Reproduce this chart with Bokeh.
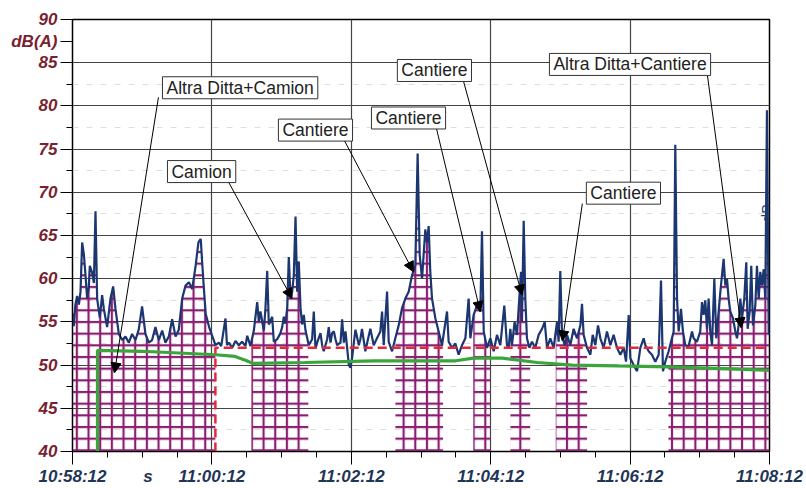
import numpy as np
from math import pi
from bokeh.plotting import figure
from bokeh.models import FixedTicker, Label, Arrow, NormalHead, LinearAxis
from bokeh.embed import file_html
from bokeh.resources import INLINE

# ---------------- data ----------------
# time in seconds after 10:58:12
x_tick_secs = [0, 120, 240, 360, 480, 600]
x_tick_labels = ["10:58:12", "11:00:12", "11:02:12", "11:04:12", "11:06:12", "11:08:12"]
x_minor_secs = [30, 60, 90, 150, 180, 210, 270, 300, 330, 390, 420, 450, 510, 540, 570]
x_unit_pos = 65
x_unit_label = "s"

y_tick_vals = [40, 45, 50, 55, 60, 65, 70, 75, 80, 85, 87.5, 90]
y_tick_labels = ["40", "45", "50", "55", "60", "65", "70", "75", "80", "85", "dB(A)", "90"]
y_minor_vals = [42.5, 47.5, 52.5, 57.5, 62.5, 67.5, 72.5, 77.5, 82.5]

# short LAeq time history, dB(A)
laeq_t = [0, 1.1, 2.5, 4.0, 5.5, 6.9, 8.3, 9.8, 11.2, 12.6, 14.0, 14.9, 16.9, 18.4, 19.8, 21.2, 23.5,
          25.5, 27.0, 29.8, 32.7, 35.0, 37.0, 39.9, 42.7, 45.6, 48.5, 51.3, 54.2, 57.0, 59.9, 62.8,
          65.7, 68.5, 71.4, 74.3, 77.2, 80.0, 82.9, 85.8, 88.7, 91.5, 94.4, 97.3, 100.2, 103.0,
          106.0, 108.4, 110.4, 111.8, 113.3, 114.7, 117.6, 120.5, 123.1, 126.0,
          128.0, 131.7, 133.0, 134.6, 137.5, 140.3, 143.2, 146.0, 148.9, 150.4, 153.2, 156.1,
          159.0, 160.4, 161.8, 164.7, 166.1, 167.6, 169.0, 171.9, 173.3, 176.2, 179.0, 180.5,
          181.9, 183.3, 184.8, 186.2, 187.7, 189.1, 190.5, 192.0, 193.4, 194.8, 196.3, 197.7,
          199.1, 200.6, 203.4, 206.3, 207.7, 209.2, 210.6, 213.5, 214.9, 216.3, 219.2, 220.6,
          222.1, 223.5, 225.0, 226.4, 227.8, 230.7, 232.1, 233.6, 235.0, 237.9, 239.3, 240.7,
          242.2, 243.6, 246.5, 247.8,
          249.2, 252.1, 254.0, 256.4, 259.3, 262.1, 265.0, 266.5, 267.9, 270.8, 272.2, 275.1,
          277.9, 280.8, 283.7, 286.5, 289.4, 292.3, 295.1, 297.1, 298.9, 300.9, 303.7, 305.2,
          306.6, 308.0, 309.5, 312.4, 315.2, 318.1, 322.4, 323.8, 326.7, 329.6, 332.4, 335.3,
          338.2, 341.0, 342.5, 345.3, 348.2, 351.1, 352.5, 354.0, 356.8, 359.7, 362.6, 365.4,
          368.3, 371.7, 374.0,
          375.5, 376.9, 378.3, 380.6, 382.6, 384.6, 386.1, 386.9, 388.4, 389.8, 391.2, 393.3,
          395.5, 398.4, 401.3, 404.2, 406.5, 408.5, 411.3, 414.2, 415.6, 417.1, 418.5, 419.9,
          421.4, 423.7, 425.7, 428.5, 431.4, 434.3, 437.2, 438.6, 440.0, 442.9, 445.8, 447.8,
          450.1, 452.4, 454.4, 457.2, 460.1, 463.0, 465.8, 468.7, 471.6, 474.5, 476.5, 478.8,
          480.2, 483.1, 486.0, 488.8,
          491.7, 493.1, 496.0, 498.8, 501.7, 504.6, 506.6, 508.3, 510.3, 513.2, 515.2, 517.5,
          518.9, 520.4, 521.8, 523.8, 525.5, 527.5, 530.4, 533.3, 534.7, 537.6, 540.4, 541.9,
          543.3, 544.7, 546.2, 547.6, 549.0, 550.5, 552.5, 554.2, 556.2, 557.7, 559.1, 560.5,
          562.0, 563.4, 564.8, 566.3, 568.6, 570.6, 572.0, 573.4, 574.9, 576.3, 578.3, 580.0,
          581.2, 582.9, 584.3, 585.8, 587.8, 589.2, 590.7, 592.1, 593.5, 595.0, 596.4, 597.8,
          599.3, 600.0]
laeq_db = [56.0, 54.5, 57.0, 58.0, 57.0, 58.5, 64.2, 62.8, 60.4, 57.7, 59.0, 61.5, 60.7, 59.5, 67.8, 57.7, 55.5,
           58.1, 56.5, 54.4, 57.7, 59.1, 56.5, 53.6, 52.9, 53.3, 52.6, 53.6, 52.9, 54.1, 56.8, 53.6,
           52.6, 52.9, 54.4, 52.9, 54.0, 52.6, 53.3, 55.3, 53.3, 54.1, 57.7, 59.2, 59.6, 58.8,
           61.5, 64.2, 64.6, 61.5, 58.5, 55.9, 54.4, 53.3, 52.3, 52.6,
           52.2, 55.4, 52.3, 52.6, 52.0, 52.8, 52.3, 52.7, 52.2, 53.4, 52.2, 54.0,
           57.3, 55.0, 56.2, 54.0, 56.6, 60.9, 54.7, 55.6, 52.7, 53.0, 53.7, 54.4,
           55.6, 54.8, 56.6, 62.5, 57.7, 58.5, 60.4, 67.2, 58.5, 62.0, 56.6, 54.7,
           55.8, 54.0, 52.3, 53.0, 56.2, 51.9, 52.6, 53.7, 52.3, 51.6, 53.0, 54.4,
           52.6, 53.7, 53.9, 53.0, 52.3, 52.6, 55.3, 52.6, 53.9, 50.0, 49.7, 50.8,
           52.6, 54.1, 52.3, 53.0,
           54.2, 51.6, 52.8, 54.2, 52.3, 53.1, 53.9, 56.2, 52.3, 58.5, 52.7, 51.6,
           53.1, 54.6, 56.6, 57.7, 58.5, 60.4, 61.5, 74.5, 62.7, 60.0, 65.7, 64.2,
           66.1, 60.8, 57.7, 55.4, 53.9, 52.3, 56.2, 52.7, 52.0, 52.5, 51.2, 52.3,
           53.1, 57.7, 53.1, 55.8, 56.9, 56.2, 65.5, 53.9, 52.0, 53.1, 51.6, 53.5,
           52.3, 56.9, 52.3,
           52.0, 54.2, 52.3, 55.0, 53.5, 57.7, 60.8, 55.0, 66.7, 57.7, 53.1, 52.0,
           52.7, 52.0, 53.5, 54.2, 55.0, 52.0, 53.1, 52.0, 53.5, 55.0, 52.7, 60.9,
           53.5, 52.3, 53.5, 52.3, 54.2, 53.1, 54.6, 57.1, 53.5, 52.0, 51.2, 53.5,
           52.3, 54.6, 53.1, 52.0, 53.9, 52.3, 53.5, 52.0, 51.2, 52.0, 50.4, 55.8,
           50.8, 50.0, 49.3, 52.0,
           53.1, 52.3, 51.6, 51.2, 50.4, 51.2, 59.8, 49.3, 50.4, 51.6, 52.7, 53.9,
           75.5, 57.7, 53.9, 56.5, 53.9, 52.3, 52.2, 53.9, 53.1, 52.7, 53.9, 57.3,
           55.8, 57.5, 54.2, 57.7, 53.9, 52.3, 60.0, 53.1, 56.2, 58.5, 60.4, 62.3,
           59.2, 60.0, 57.7, 56.2, 55.4, 53.9, 53.1, 54.6, 57.7, 55.4, 57.7, 61.9,
           54.2, 56.2, 61.5, 54.6, 56.9, 61.5, 57.7, 60.8, 59.2, 61.1, 57.7, 79.5,
           53.9, 53.5]

# running Leq (green)
leq_t = [21.5, 21.5, 60, 123, 140, 150, 155, 200, 260, 330, 345, 370, 400, 430, 470, 513, 560, 600]
leq_db = [40, 51.7, 51.6, 51.2, 51.0, 50.5, 50.2, 50.3, 50.5, 50.5, 50.8, 50.8, 50.3, 50.0, 49.9, 49.8, 49.6, 49.4]

# background level (red dashed)
bg_t = [123, 123, 600]
bg_db = [40, 52, 52]

# coded (marked) periods, seconds
marked_periods = [(0, 123), (154, 203), (278, 319), (345, 360), (377, 394), (416, 443), (513, 600)]

# annotation: text, box-left t, box-centre dB, arrow start (t, dB), arrow tip (t, dB)
notes = [
    ("Altra Ditta+Camion", 74.0, 82.1, 74.0, 81.0, 36.1, 49.1),
    ("Camion", 78.3, 72.4, 134.3, 71.2, 189.0, 57.7),
    ("Cantiere", 173.8, 77.2, 234.0, 76.0, 293.5, 60.8),
    ("Cantiere", 253.9, 78.6, 313.3, 77.4, 351.0, 56.2),
    ("Cantiere", 276.2, 84.1, 336.5, 82.9, 387.0, 58.1),
    ("Altra Ditta+Cantiere", 407.1, 84.8, 546.5, 83.6, 575.7, 54.3),
    ("Cantiere", 438.9, 69.9, 438.9, 68.7, 421.7, 52.8),
]

# ---------------- figure ----------------
FONT = "Liberation Sans"
XCOL = "#1f3556"
p = figure(width=806, height=488, x_range=(0, 600), y_range=(40, 90),
           output_backend="svg", toolbar_location=None,
           min_border_left=72, min_border_right=37, min_border_top=19, min_border_bottom=34,
           background_fill_color="white", border_fill_color="white")
p.outline_line_color = "black"
p.outline_line_width = 1.5

# inner x axis: ticks only (no labels)
xa = p.xaxis[0]
xa.ticker = FixedTicker(ticks=x_tick_secs, minor_ticks=x_minor_secs)
xa.major_label_overrides = {k: "" for k in x_tick_secs}
xa.major_label_text_font_size = "1px"
xa.major_label_standoff = 0
xa.major_tick_out = 13
xa.major_tick_in = 0
xa.minor_tick_out = 6
xa.minor_tick_in = 0
xa.axis_line_color = "black"
xa.major_tick_line_color = "black"
xa.minor_tick_line_color = "black"

# outer x axis: labels only
lab_ticks = sorted(x_tick_secs + [x_unit_pos])
lab_map = {k: v for k, v in zip(x_tick_secs, x_tick_labels)}
lab_map[x_unit_pos] = x_unit_label
xl = LinearAxis(ticker=FixedTicker(ticks=lab_ticks, minor_ticks=[]))
xl.major_label_overrides = lab_map
xl.major_label_text_font = FONT
xl.major_label_text_font_style = "bold italic"
xl.major_label_text_font_size = "17px"
xl.major_label_text_color = XCOL
xl.major_tick_line_color = None
xl.minor_tick_line_color = None
xl.axis_line_color = None
xl.major_tick_out = 0
xl.major_tick_in = 0
xl.major_label_standoff = 2
p.add_layout(xl, "below")

ya = p.yaxis[0]
ya.ticker = FixedTicker(ticks=y_tick_vals, minor_ticks=y_minor_vals)
ya.major_label_overrides = {k: v for k, v in zip(y_tick_vals, y_tick_labels)}
ya.major_label_text_font = FONT
ya.major_label_text_font_style = "bold italic"
ya.major_label_text_font_size = "17px"
ya.major_label_text_color = "#7a1f30"
ya.major_tick_out = 12
ya.major_tick_in = 0
ya.minor_tick_out = 6
ya.minor_tick_in = 0
ya.major_label_standoff = 3
ya.axis_line_color = "black"

# grids
p.xgrid.ticker = FixedTicker(ticks=[120, 240, 360, 480])
p.xgrid.grid_line_color = "#444444"
p.xgrid.grid_line_width = 1.2
p.ygrid.ticker = FixedTicker(ticks=[45, 50, 55, 60, 65, 70, 75, 80, 85], minor_ticks=y_minor_vals)
p.ygrid.grid_line_color = "#444444"
p.ygrid.grid_line_width = 1.2
p.ygrid.minor_grid_line_color = "#dedede"
p.ygrid.minor_grid_line_dash = "6 8"

# marked periods: cross-hatched area under the level curve
t_arr = np.array(laeq_t)
d_arr = np.array(laeq_db)
for a, b in marked_periods:
    m = (t_arr > a) & (t_arr < b)
    xs = np.concatenate([[a], t_arr[m], [b]])
    ys = np.concatenate([[np.interp(a, t_arr, d_arr)], d_arr[m], [np.interp(b, t_arr, d_arr)]])
    p.varea(x=xs, y1=np.full(len(xs), 40.0), y2=ys, fill_alpha=0,
            hatch_pattern="+", hatch_color="#8a1f72", hatch_weight=2.2, hatch_scale=11.67)

# level curve
p.line(laeq_t, laeq_db, line_color="#1b3670", line_width=2.2)
# running Leq
p.line(leq_t, leq_db, line_color="#3aa53a", line_width=3.2)
# background level
p.line(bg_t, bg_db, line_color="#e02a3c", line_width=2.5, line_dash="9 5")

# annotations
for text, bx, by, ax0, ay0, ax1, ay1 in notes:
    p.add_layout(Arrow(end=NormalHead(size=10, fill_color="black", line_color="black", line_width=1),
                       x_start=ax0, y_start=ay0, x_end=ax1, y_end=ay1,
                       line_color="black", line_width=1))
for text, bx, by, ax0, ay0, ax1, ay1 in notes:
    p.add_layout(Label(x=bx, y=by, x_offset=4, text=text, text_font=FONT, text_font_size="17.5px",
                       text_color="#222222", text_align="left", text_baseline="middle",
                       background_fill_color="white", border_line_color="#333333",
                       border_line_width=1, padding=dict(left=4, right=4, top=1, bottom=1)))

# side label
p.add_layout(Label(x=597.4, y=67.6, text="dB", angle=pi / 2, text_font=FONT, text_font_size="15px",
                   text_color="#1d3b70", text_align="center", text_baseline="middle"))

open("out.html", "w").write(file_html(p, INLINE))
